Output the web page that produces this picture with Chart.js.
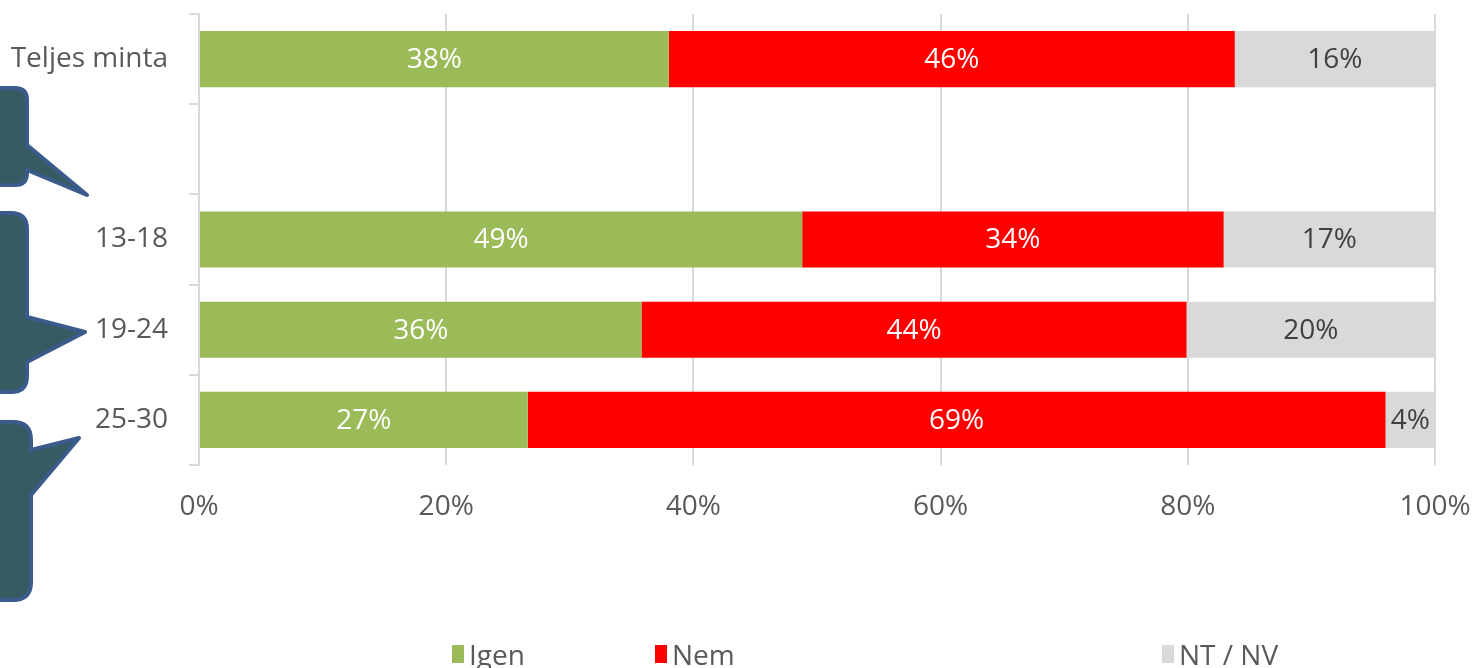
<!DOCTYPE html>
<html>
<head>
<meta charset="utf-8">
<script src="https://cdn.jsdelivr.net/npm/chart.js@4.4.1/dist/chart.umd.min.js"></script>
<style>
  html, body { margin: 0; padding: 0; background: #fff; }
  #wrap { width: 1476px; height: 668px; position: relative; }
</style>
</head>
<body>
<div id="wrap"><canvas id="chart" width="1476" height="668"></canvas></div>
<script>
// kategóriák és adatsorok (%)
const categories = ['Teljes minta', '', '13-18', '19-24', '25-30'];
const igen = [38.0, null, 48.8, 35.8, 26.6];
const nem = [45.8, null, 34.1, 44.1, 69.4];
const ntnv = [16.2, null, 17.1, 20.1, 4.0];
const seriesLabels = ['Igen', 'Nem', 'NT / NV'];
const seriesColors = ['#9BBB59', '#FF0000', '#D9D9D9'];
const xTicks = [0, 20, 40, 60, 80, 100];

const FONT = "'Open Sans', 'Noto Sans', sans-serif";
const TEXT = '#595959';

// címkék a szegmensek közepén
const barLabels = {
  id: 'barLabels',
  afterDatasetsDraw(chart) {
    const ctx = chart.ctx;
    ctx.save();
    ctx.font = `28px ${FONT}`;
    ctx.textAlign = 'center';
    ctx.textBaseline = 'middle';
    chart.data.datasets.forEach((ds, i) => {
      const meta = chart.getDatasetMeta(i);
      meta.data.forEach((bar, j) => {
        const v = ds.data[j];
        if (v == null) return;
        ctx.fillStyle = i === 2 ? '#404040' : '#FFFFFF';
        ctx.fillText(`${Math.round(v)}%`, (bar.x + bar.base) / 2, bar.y + 1);
      });
    });
    ctx.restore();
  }
};

// szövegbuborékok a bal szélen
function bubble(ctx, top, bottom, right, p1, tip, p2, r) {
  const left = -40;
  ctx.beginPath();
  ctx.moveTo(left, top);
  ctx.lineTo(right - r, top);
  ctx.quadraticCurveTo(right, top, right, top + r);
  ctx.lineTo(right, p1);
  ctx.lineTo(tip[0], tip[1]);
  ctx.lineTo(right, p2);
  ctx.lineTo(right, bottom - r);
  ctx.quadraticCurveTo(right, bottom, right - r, bottom);
  ctx.lineTo(left, bottom);
  ctx.closePath();
  ctx.fill();
  ctx.stroke();
}

const callouts = {
  id: 'callouts',
  afterDraw(chart) {
    const ctx = chart.ctx;
    ctx.save();
    ctx.fillStyle = '#385A62';
    ctx.strokeStyle = '#3A5B8C';
    ctx.lineWidth = 4;
    ctx.lineJoin = 'round';
    bubble(ctx, 88, 185, 27, 145, [87, 195], 170, 12);
    bubble(ctx, 213, 392, 27, 317, [85, 332], 362, 16);
    bubble(ctx, 422, 600, 31, 450, [79, 438], 495, 18);
    ctx.restore();
  }
};

// jelmagyarázat alul
const legendPos = [452, 655, 1162];
const bottomLegend = {
  id: 'bottomLegend',
  afterDraw(chart) {
    const ctx = chart.ctx;
    ctx.save();
    ctx.font = `28px ${FONT}`;
    ctx.textBaseline = 'alphabetic';
    ctx.textAlign = 'left';
    chart.data.datasets.forEach((ds, i) => {
      const x = legendPos[i];
      ctx.fillStyle = ds.backgroundColor;
      ctx.fillRect(x, 645, 12, 18);
      ctx.fillStyle = TEXT;
      ctx.fillText(ds.label, x + 17, 665);
    });
    ctx.restore();
  }
};

const ctx = document.getElementById('chart').getContext('2d');
new Chart(ctx, {
  type: 'bar',
  data: {
    labels: categories,
    datasets: [igen, nem, ntnv].map((d, i) => ({
      label: seriesLabels[i],
      data: d,
      backgroundColor: seriesColors[i],
      borderWidth: 0,
      categoryPercentage: 1,
      barPercentage: 0.622
    }))
  },
  options: {
    indexAxis: 'y',
    responsive: false,
    animation: false,
    layout: { padding: { top: 14, right: 41, left: 0, bottom: 0 } },
    plugins: { legend: { display: false }, tooltip: { enabled: false } },
    scales: {
      x: {
        stacked: true,
        min: 0,
        max: 100,
        afterBuildTicks: s => { s.ticks = xTicks.map(v => ({ value: v })); },
        afterFit: s => { s.height = 203; s.paddingLeft = 0; s.paddingRight = 0; },
        border: { display: false },
        grid: { color: '#D9D9D9', lineWidth: 2, drawTicks: false },
        ticks: { color: TEXT, font: { family: FONT, size: 28 }, padding: 25, callback: v => `${v}%` }
      },
      y: {
        stacked: true,
        afterFit: s => { s.width = 199; s.paddingTop = 0; s.paddingBottom = 0; },
        border: { display: true, color: '#D9D9D9', width: 2 },
        grid: { drawOnChartArea: false, drawTicks: true, tickLength: 10, color: '#D9D9D9', lineWidth: 2, offset: true },
        ticks: { color: TEXT, font: { family: FONT, size: 28 }, padding: 21 }
      }
    }
  },
  plugins: [barLabels, callouts, bottomLegend]
});
</script>
</body>
</html>
